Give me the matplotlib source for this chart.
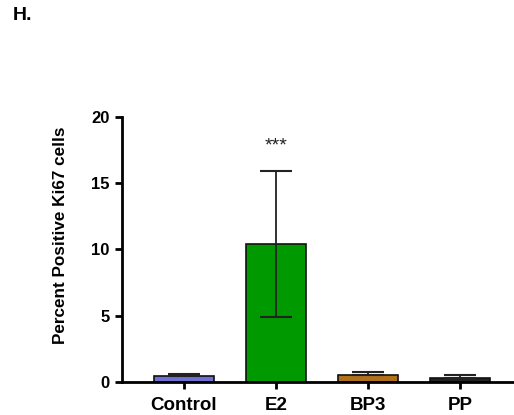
import matplotlib
matplotlib.use("Agg")
import matplotlib.pyplot as plt
import numpy as np

plt.rcParams["font.family"] = ["Liberation Sans", "DejaVu Sans"]

categories = ["Control", "E2", "BP3", "PP"]
means = [0.45, 10.4, 0.55, 0.3]
errors = [0.15, 5.5, 0.22, 0.22]
colors = ["#7070d0", "#009a00", "#b0701c", "#222222"]
yticks = [0, 5, 10, 15, 20]

fig = plt.figure(figsize=(5.14, 4.15), dpi=100)
ax = fig.add_axes([0.237, 0.0795, 0.763, 0.6386])

x = np.arange(len(categories))
for i in range(len(categories)):
    lower = errors[i] if i == 1 else 0
    ax.bar(x[i], means[i], width=0.65, color=colors[i], edgecolor="#111111",
           linewidth=1.2, zorder=2)
    ax.errorbar(x[i], means[i], yerr=[[lower], [errors[i]]], fmt="none",
                ecolor="#222222", elinewidth=1.3, capsize=11.5, capthick=1.5, zorder=3)

ax.text(1, 17.8, "***", ha="center", va="center", fontsize=14, color="#222222")

ax.set_xlim(-0.674, 3.587)
ax.set_ylim(0, 20)
ax.set_yticks(yticks)
ax.set_yticklabels([str(t) for t in yticks], fontweight="bold", fontsize=12)
ax.set_xticks(x)
ax.set_xticklabels(categories, fontweight="bold", fontsize=13.5)
ax.set_ylabel("Percent Positive Ki67 cells", fontweight="bold", fontsize=12.3)
ax.yaxis.set_label_coords(-0.138, 0.555)

for s in ["top", "right"]:
    ax.spines[s].set_visible(False)
for s in ["left", "bottom"]:
    ax.spines[s].set_linewidth(2)
ax.tick_params(axis="y", width=2, length=5, direction="out", pad=4)
ax.tick_params(axis="x", width=2, length=5, direction="out", pad=6)

fig.text(0.025, 0.963, "H.", fontweight="bold", fontsize=14, va="center")

fig.savefig("out.png", dpi=100)
